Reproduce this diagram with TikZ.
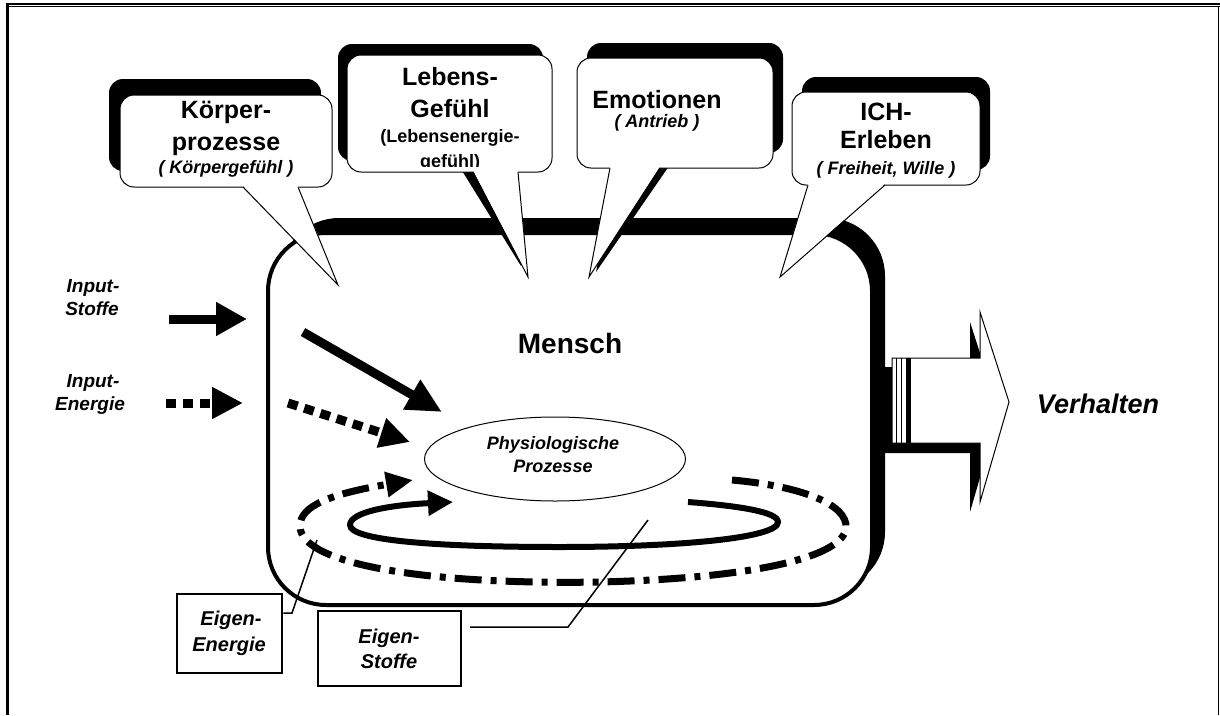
\documentclass[tikz,border=0pt]{standalone}
\usepackage{fontspec}
\setmainfont{Liberation Sans}
\usetikzlibrary{arrows.meta,shapes.geometric,calc}

% white speech bubble: #1 top-left, #2 bottom-right, #3/#4 pointer base on the bottom edge, #5 pointer tip
\newcommand{\bubblebody}[5]{%
  \filldraw[fill=white, draw=black, line width=1pt, rounded corners=14pt] #1 rectangle #2;
  \fill[white] ($#3+(0,-1.5)$) -- #5 -- ($#4+(0,-1.5)$) -- cycle;
  \draw[line width=1pt, line join=miter] #3 -- #5 -- #4;
}
% black bubble shadow: #1 top-left, #2 bottom-right, #3/#4/#5 pointer triangle
\newcommand{\bubbleshade}[5]{%
  \fill[black, rounded corners=14pt] #1 rectangle #2;
  \fill[black] #3 -- #5 -- #4 -- cycle;
}
% block arrow on the right
\newcommand{\outarrow}[1]{\path[#1] (892,358) -- (980,358) -- (980,312) -- (1009,402) -- (980,502) -- (980,443) -- (892,443) -- cycle;}

\begin{document}
\begin{tikzpicture}[x=1pt,y=-1pt,
  every node/.style={inner sep=0pt},
  headtxt/.style={font=\fontsize{25}{30}\selectfont\bfseries, anchor=base},
  notetxt/.style={font=\fontsize{18}{22}\selectfont\bfseries\itshape, anchor=base},
  noteup/.style={font=\fontsize{18}{22}\selectfont\bfseries, anchor=base},
  sidetxt/.style={font=\fontsize{19}{23}\selectfont\bfseries\itshape, anchor=base},
  boxtxt/.style={font=\fontsize{20}{24}\selectfont\bfseries\itshape, anchor=base},
  flow/.style={line width=9pt},
  dotflow/.style={line width=9pt, dash pattern=on 10pt off 7pt},
  labelbox/.style={draw=black, line width=2.5pt, fill=white},
  leader/.style={draw=black, line width=1.5pt},
]
\useasboundingbox (0,0) rectangle (1220,715);

% page frame
\fill[black] (6,3.3) rectangle (9.3,715);
\draw[line width=1.4pt] (6,4) -- (1220,4);
\draw[line width=1.3pt] (9.3,6.7) -- (1220,6.7);
\draw[line width=1pt] (1218.8,6.7) -- (1218.8,715);

% the person: shadowed rounded box
\fill[black, rounded corners=58pt] (281,218) rectangle (885,590);
\filldraw[fill=white, draw=black, line width=4pt, rounded corners=58pt] (268,233) rectangle (872,605);
\node[font=\fontsize{28}{32}\selectfont\bfseries, anchor=base] (mensch) at (570,353) {Mensch};

% physiological processes
\node[draw=black, line width=1pt, ellipse, minimum width=261pt, minimum height=84pt] (physio) at (555,459) {};
\node[notetxt] (physA) at (553,449) {Physiologische};
\node[notetxt] (physB) at (553,472) {Prozesse};

% input arrows
\coordinate (inS1) at (169,319);  \coordinate (inS2) at (247,319);
\coordinate (inE1) at (166,403);  \coordinate (inE2) at (243,403);
\coordinate (inS3) at (303,332);  \coordinate (inS4) at (442,412);
\coordinate (inE3) at (288,403);  \coordinate (inE4) at (410,442);
\draw[flow, -{Triangle[length=31pt,width=32pt]}] (inS1) -- (inS2);
\draw[dotflow, -{Triangle[length=31pt,width=30pt]}] (inE1) -- (inE2);
\draw[flow, -{Triangle[length=35pt,width=32pt]}] (inS3) -- (inS4);
\draw[dotflow, -{Triangle[length=30pt,width=29pt]}] (inE3) -- (inE4);

% own energy cycle (dash-dot) and own substance cycle (solid)
\coordinate (enStart) at (732,480);
\coordinate (enEnd) at (413,480);
\draw[line width=7pt, dash pattern=on 27pt off 9pt on 6pt off 9pt, -{Triangle[length=27pt,width=24pt]}]
  (enStart) .. controls (800,486) and (848,504) .. (846,528)
  .. controls (843,556) and (760,578) .. (600,582)
  .. controls (430,585) and (300,565) .. (300,526)
  .. controls (300,506) and (330,494) .. (enEnd);
\coordinate (stStart) at (688,502);
\coordinate (stEnd) at (453,502);
\draw[line width=6pt, -{Triangle[length=25pt,width=24pt]}]
  (stStart) .. controls (740,506) and (778,512) .. (778,522)
  .. controls (778,538) and (680,547) .. (560,547)
  .. controls (430,547) and (350,540) .. (350,525)
  .. controls (350,512) and (390,505) .. (stEnd);

% speech bubbles: shadows first, then bodies
\bubbleshade{(109,79)}{(321,171)}{(232,171)}{(287,171)}{(327,269)}
\bubblebody{(120,95)}{(332,187)}{(243,187)}{(298,187)}{(338,285)}
\bubbleshade{(338,44)}{(543,161)}{(456,161)}{(505,161)}{(521,266)}
\bubblebody{(347,55)}{(552,172)}{(473,172)}{(518,172)}{(528,277)}
\bubbleshade{(587,43)}{(783,153)}{(620,153)}{(678,153)}{(596,272)}
\bubblebody{(577,58)}{(773,168)}{(610,168)}{(660,168)}{(589,277)}
\bubbleshade{(802,77)}{(990,170)}{(818,170)}{(895,170)}{(790,262)}
\bubblebody{(792,92)}{(980,185)}{(808,185)}{(885,185)}{(780,277)}

% bubble texts
\node[headtxt] (kA) at (226,118) {Körper-};
\node[headtxt] (kB) at (226,150) {prozesse};
\node[notetxt] (kC) at (226,173) {( Körpergefühl )};
\begin{scope}
  \clip (347,55) rectangle (552,166);
  \node[headtxt] (lA) at (450,85) {Lebens-};
  \node[headtxt] (lB) at (450,117) {Gefühl};
  \node[noteup] (lC) at (450,142) {(Lebensenergie-};
  \node[noteup] (lD) at (450,167) {gefühl)};
\end{scope}
\node[headtxt] (eA) at (657,108) {Emotionen};
\node[notetxt] (eB) at (657,127) {( Antrieb )};
\node[headtxt] (iA) at (886,120) {ICH-};
\node[headtxt] (iB) at (886,148) {Erleben};
\node[notetxt] (iC) at (886,174) {( Freiheit, Wille )};

% behaviour output arrow with shadow
\outarrow{fill=black, shift={(-10,10)}}
\fill[black] (885,367) rectangle (892,453);
\outarrow{fill=white, draw=black, line width=1pt}
\draw[line width=1pt] (896,358) -- (896,448);
\draw[line width=1pt] (901,358) -- (901,448);
\fill[black] (906,358) rectangle (911,443);
\node[font=\fontsize{27}{32}\selectfont\bfseries\itshape, anchor=base] (verh) at (1098,413) {Verhalten};

% input labels
\node[sidetxt] (isA) at (93,292) {Input-};
\node[sidetxt] (isB) at (92,315) {Stoffe};
\node[sidetxt] (ieA) at (93,387) {Input-};
\node[sidetxt] (ieB) at (90,410) {Energie};

% own energy / own substances label boxes with leader lines
\node[labelbox, minimum width=105pt, minimum height=79pt] (enbox) at (229.5,633.5) {};
\node[boxtxt] (enA) at (231,625) {Eigen-};
\node[boxtxt] (enB) at (229,651) {Energie};
\node[labelbox, minimum width=143pt, minimum height=75pt] (stbox) at (389.5,648.5) {};
\node[boxtxt] (stA) at (389,643) {Eigen-};
\node[boxtxt] (stB) at (389,668) {Stoffe};
\coordinate (enKnee) at (292,613);
\coordinate (enTip) at (317,540);
\coordinate (stFoot) at (470,627);
\coordinate (stKnee) at (568,627);
\coordinate (stTip) at (648,520);
\draw[leader] (enbox.east |- enKnee) -- (enKnee) -- (enTip);
\draw[leader] (stFoot) -- (stKnee) -- (stTip);
\end{tikzpicture}
\end{document}
